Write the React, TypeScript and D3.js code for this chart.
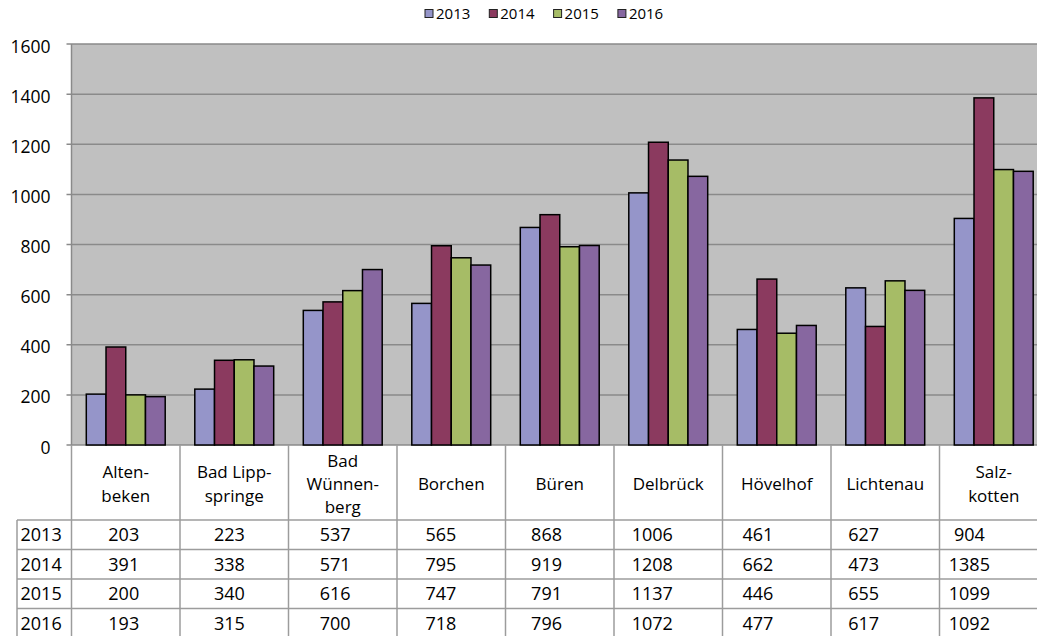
import React, { useEffect, useRef } from "react";
import * as d3 from "d3";

// categories (table header labels, split into lines)
const categories = ["Altenbeken", "Bad Lippspringe", "Bad Wünnenberg", "Borchen", "Büren", "Delbrück", "Hövelhof", "Lichtenau", "Salzkotten"];
const categoryLines = [["Alten-", "beken"], ["Bad Lipp-", "springe"], ["Bad", "Wünnen-", "berg"], ["Borchen"], ["Büren"], ["Delbrück"], ["Hövelhof"], ["Lichtenau"], ["Salz-", "kotten"]];

const years = ["2013", "2014", "2015", "2016"];
const values2013 = [203, 223, 537, 565, 868, 1006, 461, 627, 904];
const values2014 = [391, 338, 571, 795, 919, 1208, 662, 473, 1385];
const values2015 = [200, 340, 616, 747, 791, 1137, 446, 655, 1099];
const values2016 = [193, 315, 700, 718, 796, 1072, 477, 617, 1092];
const yTicks = [0, 200, 400, 600, 800, 1000, 1200, 1400, 1600];

const colors = ["#9595c9", "#8b3a5f", "#a6bc66", "#8767a0"];

export default function App() {
    const svgRef = useRef<SVGSVGElement>(null);

    useEffect(() => {
        document.body.style.margin = "0";
        const svg = d3.select(svgRef.current);
        svg.selectAll("*").remove();

        const width = 1037;
        const height = 636;
        const font = "'Open Sans', sans-serif";
        const left = 71.5;
        const colW = 108.5;
        const top = 44;
        const bottom = 445;
        const gridColor = "#8a8a8a";
        const tableColor = "#9c9c9c";
        const series = [values2013, values2014, values2015, values2016];

        svg.attr("width", width).attr("height", height);

        //scales
        const x = d3.scaleBand<string>()
            .domain(categories)
            .range([left, left + colW * categories.length]);
        const xs = d3.scaleBand<string>()
            .domain(years)
            .range([0, x.bandwidth()])
            .paddingInner(0)
            .paddingOuter(0.75);
        const y = d3.scaleLinear().domain([0, 1600]).range([bottom, top]);

        //plot background
        svg.append("rect")
            .attr("x", left)
            .attr("y", top)
            .attr("width", width - left)
            .attr("height", bottom - top)
            .attr("fill", "#c0c0c0");

        //gridlines
        svg.append("g")
            .selectAll("line")
            .data(yTicks)
            .join("line")
            .attr("x1", left - 5)
            .attr("x2", width)
            .attr("y1", (d) => y(d))
            .attr("y2", (d) => y(d))
            .attr("stroke", gridColor)
            .attr("stroke-width", 1.5);

        //y axis line
        svg.append("line")
            .attr("x1", left).attr("x2", left)
            .attr("y1", top).attr("y2", bottom)
            .attr("stroke", gridColor)
            .attr("stroke-width", 1.5);

        //y tick labels
        svg.append("g")
            .selectAll("text")
            .data(yTicks)
            .join("text")
            .attr("x", 50.5)
            .attr("y", (d) => y(d) + 1.5)
            .attr("text-anchor", "end")
            .attr("dominant-baseline", "central")
            .attr("font-family", font)
            .attr("font-size", "17.5px")
            .attr("fill", "#000")
            .text((d) => d);

        //bars
        years.forEach((yr, si) => {
            svg.append("g")
                .selectAll("rect")
                .data(series[si])
                .join("rect")
                .attr("x", (d, i) => (x(categories[i]) as number) + (xs(yr) as number))
                .attr("y", (d) => y(d))
                .attr("width", xs.bandwidth())
                .attr("height", (d) => bottom - y(d))
                .attr("fill", colors[si])
                .attr("stroke", "#000")
                .attr("stroke-width", 1.5);
        });

        //legend
        const legend = svg.append("g");
        years.forEach((yr, i) => {
            const lx = 425 + i * 64.3;
            legend.append("rect")
                .attr("x", lx)
                .attr("y", 9.5)
                .attr("width", 8)
                .attr("height", 8)
                .attr("fill", colors[i])
                .attr("stroke", "#222")
                .attr("stroke-width", 1);
            legend.append("text")
                .attr("x", lx + 11)
                .attr("y", 18.5)
                .attr("font-family", font)
                .attr("font-size", "15px")
                .attr("fill", "#000")
                .text(yr);
        });

        //data table
        const table = svg.append("g");
        const headerBottom = 520;
        const rowH = 29.5;

        //vertical lines
        categories.forEach((c) => {
            table.append("line")
                .attr("x1", x(c) as number).attr("x2", x(c) as number)
                .attr("y1", bottom).attr("y2", height)
                .attr("stroke", tableColor)
                .attr("stroke-width", 1.5);
        });
        table.append("line")
            .attr("x1", 17).attr("x2", 17)
            .attr("y1", headerBottom).attr("y2", height)
            .attr("stroke", tableColor)
            .attr("stroke-width", 1.5);

        //horizontal lines
        years.forEach((yr, r) => {
            const ly = headerBottom + r * rowH;
            table.append("line")
                .attr("x1", 17).attr("x2", width)
                .attr("y1", ly).attr("y2", ly)
                .attr("stroke", tableColor)
                .attr("stroke-width", 1.5);
        });

        //header labels
        categories.forEach((c, i) => {
            const lines = categoryLines[i];
            const cx = (x(c) as number) + colW / 2;
            const mid = 483.5;
            lines.forEach((ln, k) => {
                table.append("text")
                    .attr("x", cx)
                    .attr("y", mid + 6.5 + (k - (lines.length - 1) / 2) * 23.4)
                    .attr("text-anchor", "middle")
                    .attr("font-family", font)
                    .attr("font-size", "17px")
                    .attr("fill", "#000")
                    .text(ln);
            });
        });

        //rows
        years.forEach((yr, r) => {
            const rowY = headerBottom + r * rowH + rowH / 2 + 6.5;
            table.append("text")
                .attr("x", 20.5)
                .attr("y", rowY)
                .attr("font-family", font)
                .attr("font-size", "18px")
                .attr("fill", "#000")
                .text(yr);
            series[r].forEach((v, i) => {
                table.append("text")
                    .attr("x", (x(categories[i]) as number) + colW / 2 - 2 - 2.8 * i)
                    .attr("y", rowY)
                    .attr("text-anchor", "middle")
                    .attr("font-family", font)
                    .attr("font-size", "18px")
                    .attr("fill", "#000")
                    .text(v);
            });
        });
    }, []);

    return (
        <div>
            <svg ref={svgRef} style={{ display: "block" }}></svg>
        </div>
    );
}
